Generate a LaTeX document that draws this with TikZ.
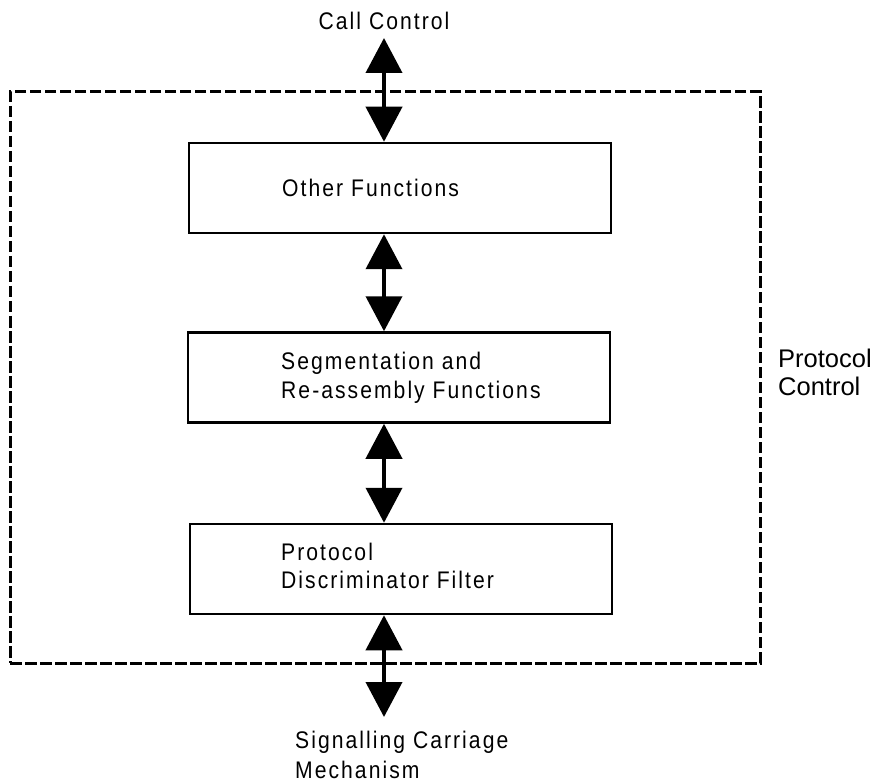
\documentclass[tikz,border=0pt]{standalone}
\usepackage{fontspec}
\setmainfont{Liberation Sans}
\newfontfamily\spacedfont[FakeStretch=0.88,LetterSpace=8.5]{Liberation Sans}
\usetikzlibrary{arrows.meta}

\begin{document}
\begin{tikzpicture}[x=1pt,y=-1pt,
  frame/.style={draw, line width=3pt, dash pattern=on 11.5pt off 3.5pt,
    minimum width=750pt, minimum height=571pt, inner sep=0pt},
  fnbox/.style={draw, line width=2.5pt, minimum width=422pt, minimum height=90pt, inner sep=0pt},
  lbl/.style={anchor=base west, inner sep=0pt, font=\spacedfont\fontsize{24}{28}\selectfont},
  plain/.style={anchor=base west, inner sep=0pt, font=\fontsize{25.5}{28}\selectfont},
  dbl/.style={line width=4pt, {Triangle[width=36pt,length=35pt]}-{Triangle[width=36pt,length=35pt]}}
]
\useasboundingbox (0,0) rectangle (877,783);

% dashed outline of the protocol control entity
\node[frame] (pc) at (385,377.5) {};

% function blocks
\node[fnbox] (b1) at (400,188) {};
\node[fnbox] (b2) at (399,377.5) {};
\node[fnbox] (b3) at (401,569) {};

% block texts
\node[lbl] (t1) at (282,197) {Other Functions};
\node[lbl] (t2a) at (281,369) {Segmentation and};
\node[lbl] (t2b) at (281,398) {Re-assembly Functions};
\node[lbl] (t3a) at (281,560) {Protocol};
\node[lbl] (t3b) at (281,588) {Discriminator Filter};

% outer labels
\node[lbl, anchor=base] (cc) at (384,30) {Call Control};
\node[lbl] (scm1) at (295,748) {Signalling Carriage};
\node[lbl] (scm2) at (295,778) {Mechanism};
\node[plain] (pcl1) at (778,367) {Protocol};
\node[plain] (pcl2) at (778,395) {Control};

% connectors
\coordinate (top) at (384,38);
\coordinate (bot) at (384,717);
\draw[dbl] (top) -- (top |- b1.north);
\draw[dbl] (b1.south -| top) -- (b2.north -| top);
\draw[dbl] (b2.south -| top) -- (b3.north -| top);
\draw[dbl] (b3.south -| top) -- (bot);
\end{tikzpicture}
\end{document}
